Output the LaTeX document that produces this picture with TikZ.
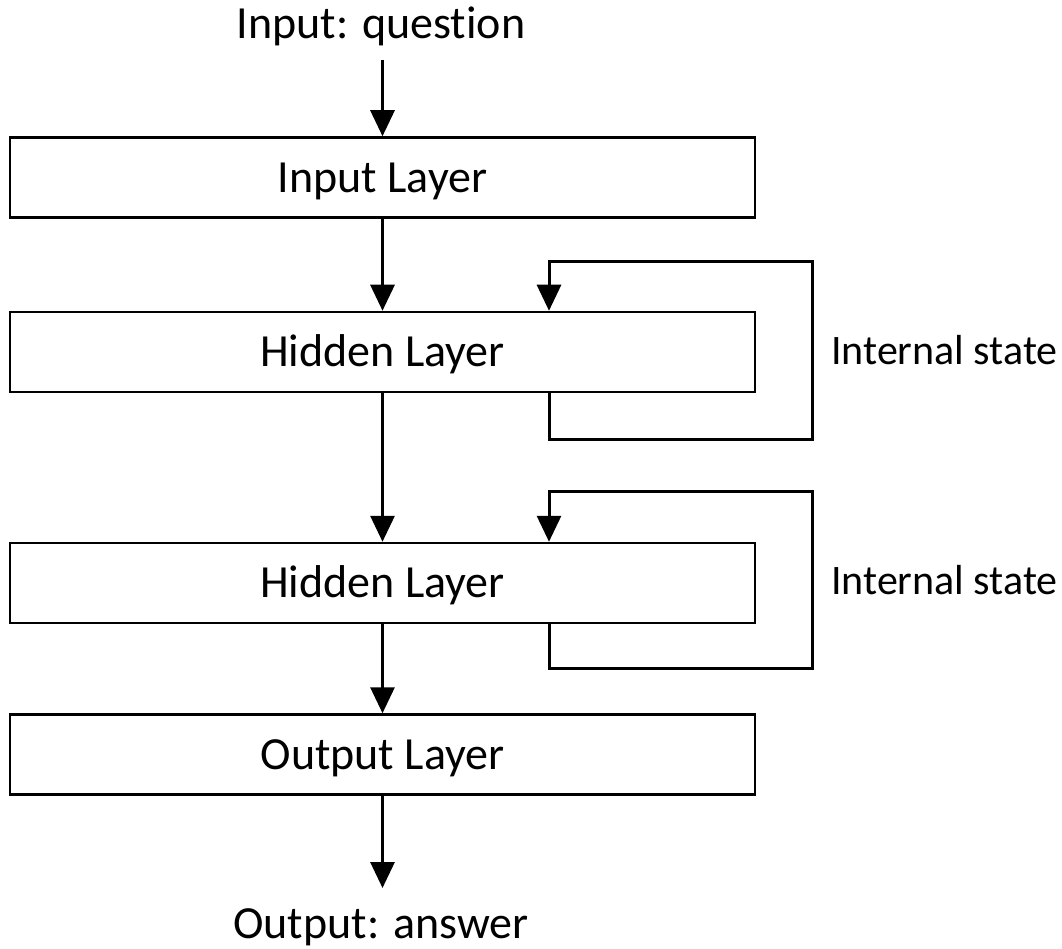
\documentclass[tikz,border=0pt]{standalone}
\usepackage{fontspec}
\setmainfont{Carlito}[Ligatures=NoCommon]
\usetikzlibrary{arrows.meta}
\begin{document}
\begin{tikzpicture}[x=1pt,y=-1pt,
  layer/.style={draw,line width=2.5pt,minimum width=745pt,minimum height=80pt,
    inner sep=0pt,text height=29.6pt,text depth=0pt,
    font=\fontsize{46}{50}\selectfont},
  lbl/.style={font=\fontsize{46}{50}\selectfont,inner sep=0pt},
  side/.style={font=\fontsize{42}{46}\selectfont,inner sep=0pt},
  arr/.style={line width=3pt,-{Triangle[length=26pt,width=24pt]}}]
\useasboundingbox (0,0) rectangle (1062,949);
% input and output labels
\node[lbl,anchor=base] (qin) at (381,39) {Input: question};
\node[lbl,anchor=base] (aout) at (381,938) {Output: answer};
% layers
\node[layer] (inl) at (382.5,177.5) {Input Layer};
\node[layer] (h1) at (382.5,352) {Hidden Layer};
\node[layer] (h2) at (382.5,583) {Hidden Layer};
\node[layer] (outl) at (382.5,754.5) {Output Layer};
% corner points of the recurrent loops
\coordinate (kx) at (549,0);
\coordinate (r1t) at (812,262);
\coordinate (r1b) at (812,439);
\coordinate (r2t) at (812,491);
\coordinate (r2b) at (812,668);
\coordinate (topin) at (382.5,60);
\coordinate (botout) at (382.5,888);
% forward connections
\draw[arr] (topin) -- (inl.north);
\draw[arr] (inl) -- (h1.north);
\draw[arr] (h1) -- (h2.north);
\draw[arr] (h2) -- (outl.north);
\draw[arr] (outl.south) -- (botout);
% recurrent connections
\draw[arr] (h1.south -| kx) |- (r1b) -- (r1t) -| (h1.north -| kx);
\draw[arr] (h2.south -| kx) |- (r2b) -- (r2t) -| (h2.north -| kx);
\node[side,anchor=base west] (s1) at (831,364) {Internal state};
\node[side,anchor=base west] (s2) at (831,594) {Internal state};
\end{tikzpicture}
\end{document}
